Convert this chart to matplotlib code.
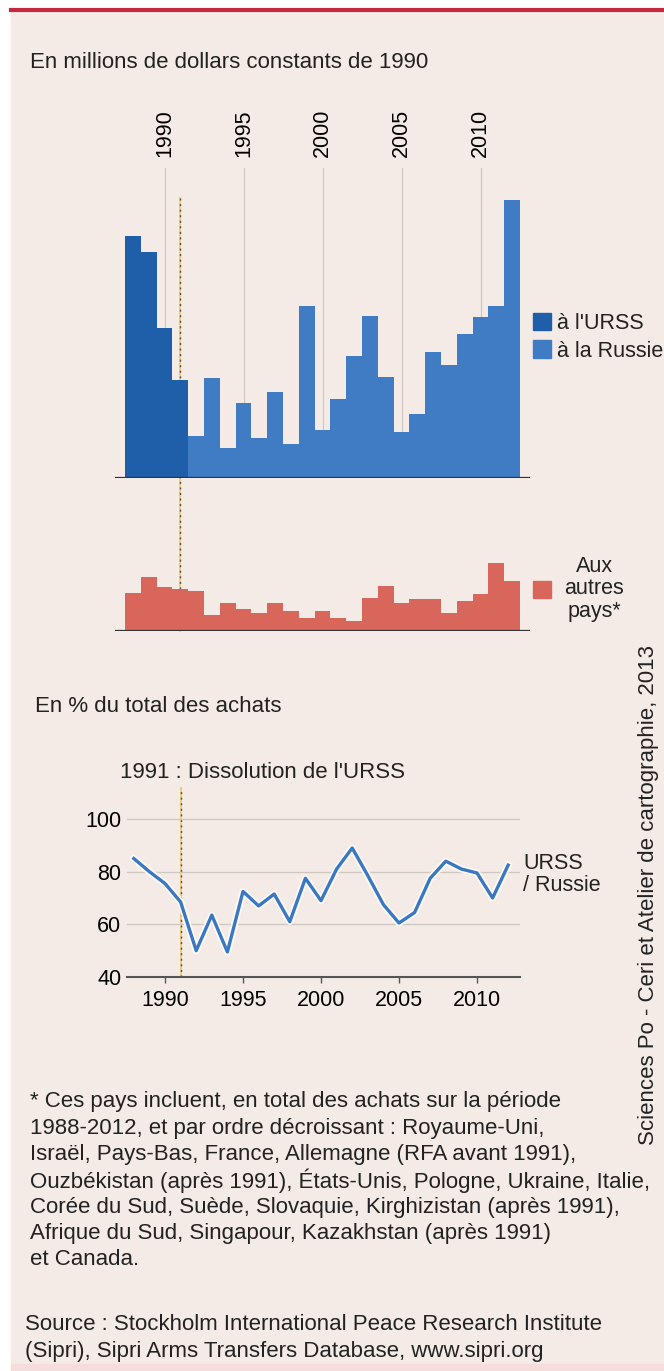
import numpy as np
import matplotlib
matplotlib.use("Agg")
import matplotlib.pyplot as plt
import matplotlib.patheffects as pe
from matplotlib.patches import Patch, Rectangle
from matplotlib.lines import Line2D
from matplotlib.transforms import blended_transform_factory

plt.rcParams['font.family'] = ['Liberation Sans', 'DejaVu Sans']
plt.rcParams['text.color'] = '#222222'

# data, millions of 1990 dollars
years = list(range(1988, 2013))
urss_years = [1988, 1989, 1990, 1991]
urss_vals = [1090, 1015, 675, 443]
russia_years = list(range(1992, 2013))
russia_vals = [190, 450, 135, 338, 180, 386, 153, 773, 218, 356, 551,
               728, 453, 207, 288, 566, 507, 648, 725, 773, 1253]
other_vals = [172, 243, 198, 188, 178, 70, 126, 98, 81, 126, 88, 60, 90,
              58, 45, 150, 201, 126, 142, 142, 82, 135, 165, 306, 225]
# share of total purchases, %
pct_vals = [85, 80, 75.5, 68.5, 50, 63.5, 49.5, 72.5, 67, 71.5, 61, 77.5,
            69, 81, 89, 78.5, 67.5, 60.5, 64.5, 77.5, 84, 81, 79.5, 70, 82.5]
year_ticks = [1990, 1995, 2000, 2005, 2010]
pct_ticks = [40, 60, 80, 100]
dissolution = 1991

note_lines = [
    "* Ces pays incluent, en total des achats sur la période",
    "1988-2012, et par ordre décroissant : Royaume-Uni,",
    "Israël, Pays-Bas, France, Allemagne (RFA avant 1991),",
    "Ouzbékistan (après 1991), États-Unis, Pologne, Ukraine, Italie,",
    "Corée du Sud, Suède, Slovaquie, Kirghizistan (après 1991),",
    "Afrique du Sud, Singapour, Kazakhstan (après 1991)",
    "et Canada.",
]
source_lines = [
    "Source : Stockholm International Peace Research Institute",
    "(Sipri), Sipri Arms Transfers Database, www.sipri.org",
]

W, H = 664, 1371
fig = plt.figure(figsize=(W / 100, H / 100), dpi=100, facecolor='white')

def fx(px):
    return px / W

def fy(py):
    return 1 - py / H

BG = '#f5ebe6'
C_URSS = '#1f5ea8'
C_RUS = '#3f7cc3'
C_OTH = '#d9665a'
C_LINE = '#3a78c3'
C_GRID = '#cfc8c2'
FS = 16

# background panel and top rule
fig.patches.append(Rectangle((fx(11), fy(1364)), 1 - fx(11), fy(11) - fy(1364),
                             transform=fig.transFigure, color=BG, zorder=-10))
fig.patches.append(Rectangle((fx(11), 0), 1 - fx(11), fy(1364),
                             transform=fig.transFigure, color='#f7dcdc', zorder=-10))
fig.lines.append(Line2D([fx(11), 1], [fy(9.5), fy(9.5)], transform=fig.transFigure,
                        color='#c4283c', lw=3))

fig.text(fx(30), fy(63), "En millions de dollars constants de 1990",
         fontsize=FS, va='center', ha='left')

# top bar chart
ppu = 4.5
ax_top = fig.add_axes([fx(115), fy(478), fx(530) - fx(115), (478 - 168) / H])
ax_top.patch.set_visible(False)
ax_top.bar(urss_years, urss_vals, width=1.0, color=C_URSS, zorder=3, lw=0)
ax_top.bar(russia_years, russia_vals, width=1.0, color=C_RUS, zorder=3, lw=0)
ax_top.set_xlim(1987.5 - 10 / 15.8, 2012.5 + 10 / 15.8)
ax_top.set_ylim(0, 310 * ppu)
ax_top.axhline(0, color='#333333', lw=1.6, zorder=4)
ax_top.xaxis.tick_top()
ax_top.set_xticks(year_ticks)
ax_top.set_xticklabels([str(y) for y in year_ticks])
ax_top.tick_params(axis='x', length=0, pad=8, labelrotation=90, labelsize=15.5)
ax_top.set_yticks([])
ax_top.grid(axis='x', color=C_GRID, lw=0.9, zorder=0)
for s in ax_top.spines.values():
    s.set_visible(False)

leg1 = ax_top.legend(handles=[Patch(color=C_URSS, label="à l'URSS"),
                              Patch(color=C_RUS, label="à la Russie")],
                     loc='upper left', bbox_to_anchor=(fx(533), fy(313)),
                     bbox_transform=fig.transFigure, frameon=False, fontsize=15.5,
                     handlelength=0.85, handleheight=0.85, handletextpad=0.25,
                     labelspacing=0.3, borderaxespad=0, borderpad=0)

# dotted 1991 line across both bar charts
tr = blended_transform_factory(ax_top.transData, fig.transFigure)
ax_top.add_line(Line2D([dissolution, dissolution], [fy(198), fy(631)], transform=tr,
                       color='#f0cf7a', lw=1.4, clip_on=False, zorder=1))
ax_top.add_line(Line2D([dissolution, dissolution], [fy(198), fy(631)], transform=tr,
                       color='#5a5040', lw=1.0, ls=(0, (1.5, 2.5)), clip_on=False, zorder=1))

# other countries
ax_bot = fig.add_axes([fx(115), fy(631), fx(530) - fx(115), (631 - 540) / H])
ax_bot.patch.set_visible(False)
ax_bot.bar(years, other_vals, width=1.0, color=C_OTH, zorder=3, lw=0)
ax_bot.set_xlim(1987.5 - 10 / 15.8, 2012.5 + 10 / 15.8)
ax_bot.set_ylim(0, 91 * ppu)
ax_bot.axhline(0, color='#333333', lw=1.6, zorder=4)
ax_bot.set_xticks([])
ax_bot.set_yticks([])
for s in ax_bot.spines.values():
    s.set_visible(False)

leg2 = ax_bot.legend(handles=[Patch(color=C_OTH, label="Aux\nautres\npays*")],
                     loc='center left', bbox_to_anchor=(fx(533), fy(589)),
                     bbox_transform=fig.transFigure, frameon=False, fontsize=15.5,
                     handlelength=0.85, handleheight=0.85, handletextpad=0.6,
                     borderaxespad=0, borderpad=0)
for t in leg2.get_texts():
    t.set_multialignment('center')
    t.set_linespacing(1.12)

# percentage line chart
fig.text(fx(35), fy(706), "En % du total des achats", fontsize=FS, va='center', ha='left')
fig.text(fx(120), fy(772), "1991 : Dissolution de l'URSS", fontsize=FS,
         va='center', ha='left')

ax_line = fig.add_axes([fx(127), fy(977), fx(520) - fx(127), (977 - 817) / H])
ax_line.patch.set_visible(False)
ax_line.set_xlim(1990 + (127 - 165) / 15.6, 1990 + (520 - 165) / 15.6)
ax_line.set_ylim(40, 40 + 160 / 2.633)
ax_line.plot(years, pct_vals, color=C_LINE, lw=2.4, solid_joinstyle='round', zorder=4,
             path_effects=[pe.Stroke(linewidth=5, foreground='#fdfaf8'), pe.Normal()])
ax_line.axvline(dissolution, ymin=0, ymax=(977 - 788) / 160, color='#f0cf7a', lw=1.4,
                clip_on=False, zorder=1)
ax_line.axvline(dissolution, ymin=0, ymax=(977 - 788) / 160, color='#5a5040', lw=1.0,
                ls=(0, (1.5, 2.5)), clip_on=False, zorder=1)
ax_line.set_yticks(pct_ticks)
ax_line.set_xticks(year_ticks)
ax_line.grid(axis='y', color=C_GRID, lw=1.0, zorder=0)
ax_line.tick_params(axis='y', length=0, pad=4, labelsize=15.5)
ax_line.tick_params(axis='x', length=4, width=1, color='#555555', pad=5, labelsize=15.5)
for k in ['top', 'right', 'left']:
    ax_line.spines[k].set_visible(False)
ax_line.spines['bottom'].set_color('#555555')
ax_line.spines['bottom'].set_linewidth(1.5)
ax_line.text(1.008, 0.64, "URSS\n/ Russie", transform=ax_line.transAxes, fontsize=15.5,
             va='center', ha='left', linespacing=1.05)

# notes
fig.text(0.976, fy(895), "Sciences Po - Ceri et Atelier de cartographie, 2013",
         rotation=90, fontsize=FS, va='center', ha='center')

for i, line in enumerate(note_lines):
    fig.text(fx(30), fy(1102 + i * 26.3), line, fontsize=FS, va='center', ha='left')
for i, line in enumerate(source_lines):
    fig.text(fx(25), fy(1325 + i * 27), line, fontsize=FS, va='center', ha='left')

fig.savefig('out.png', dpi=100, facecolor=fig.get_facecolor())
